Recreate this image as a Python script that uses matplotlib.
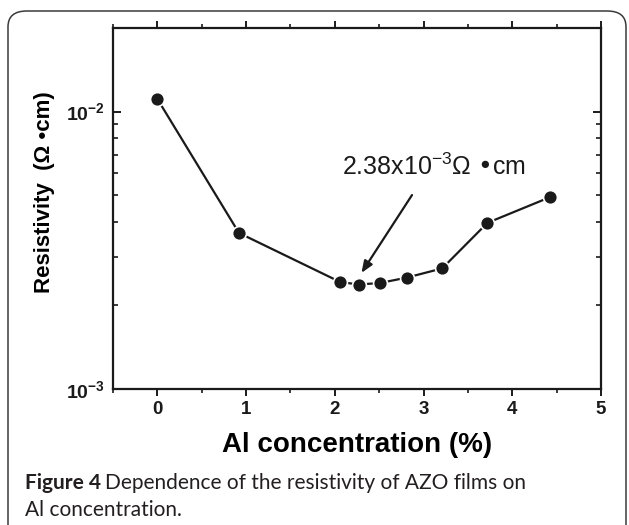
import matplotlib
matplotlib.use('Agg')
import matplotlib.pyplot as plt
from matplotlib.patches import FancyBboxPatch
from matplotlib.ticker import MultipleLocator, LogLocator

plt.rcParams['font.family'] = ['Liberation Sans', 'DejaVu Sans']
plt.rcParams['font.weight'] = 'bold'

# Data
al_conc = [0.0, 0.92, 2.06, 2.27, 2.51, 2.81, 3.21, 3.72, 4.43]
resistivity = [1.11e-2, 3.65e-3, 2.43e-3, 2.38e-3, 2.41e-3, 2.52e-3, 2.72e-3, 3.97e-3, 4.92e-3]

fig = plt.figure(figsize=(6.29, 5.25), dpi=100)

# rounded caption frame
frame = FancyBboxPatch((8 / 629, -0.2), 618 / 629, 1.2 - 11 / 525,
                       boxstyle='round,pad=0,rounding_size=0.03',
                       transform=fig.transFigure, fill=False,
                       edgecolor='#3a3a3a', linewidth=1.1, clip_on=False)
fig.patches.append(frame)

ax = fig.add_axes([113 / 629, 1 - 389 / 525, 488 / 629, 361 / 525])

ax.plot(al_conc, resistivity, color='#1a1a1a', linewidth=1.6,
        marker='o', markersize=10, markerfacecolor='#1a1a1a',
        markeredgecolor='white', markeredgewidth=1.2)

ax.set_yscale('log')
ax.set_xlim(-0.5, 5)
ax.set_ylim(1e-3, 2e-2)
ax.xaxis.set_major_locator(MultipleLocator(1))
ax.xaxis.set_minor_locator(MultipleLocator(0.5))
ax.yaxis.set_major_locator(LogLocator(base=10))
ax.yaxis.set_minor_locator(LogLocator(base=10, subs=range(2, 10)))

for s in ax.spines.values():
    s.set_linewidth(1.6)
    s.set_color('#1a1a1a')

ax.tick_params(axis='x', which='both', direction='out', top=True,
               labelsize=13.5, pad=4, colors='#1a1a1a')
ax.tick_params(axis='x', which='major', length=5, width=1.4)
ax.tick_params(axis='x', which='minor', length=3, width=1.2)
ax.tick_params(axis='y', which='both', direction='in', right=True,
               labelsize=14, pad=6, colors='#1a1a1a')
ax.tick_params(axis='y', which='major', length=6, width=1.4)
ax.tick_params(axis='y', which='minor', length=3.6, width=1.2)

ax.set_xlabel('Al concentration (%)', fontsize=20, fontweight='bold', labelpad=10)
ax.set_ylabel('Resistivity  (Ω •cm)', fontsize=16, fontweight='bold')
ax.yaxis.set_label_coords(-0.119, 0.546)

ax.annotate('', xy=(2.30, 2.62e-3), xytext=(2.87, 5.0e-3),
            arrowprops=dict(arrowstyle='-|>,head_length=0.7,head_width=0.28',
                            color='#1a1a1a', lw=1.6, shrinkA=0, shrinkB=0))
ax.text(3.12, 6.34e-3, r'2.38x10$^{\mathdefault{-3}}$Ω •cm', fontsize=18,
        fontweight='normal', ha='center', va='center', color='#1a1a1a')

cap_font = ['Lato', 'DejaVu Sans']
t1 = fig.text(25 / 629, 1 - 483 / 525, 'Figure 4', fontsize=15, fontweight='bold',
              family=cap_font, va='center', color='#231f20')
fig.canvas.draw()
bb = t1.get_window_extent()
fig.text(bb.x1 / 629 + 0.007, 1 - 483 / 525,
         'Dependence of the resistivity of AZO films on', fontsize=15,
         fontweight='normal', family=cap_font, va='center', color='#231f20')
fig.text(25 / 629, 1 - 510 / 525, 'Al concentration.', fontsize=15,
         fontweight='normal', family=cap_font, va='center', color='#231f20')

fig.savefig('out.png', dpi=100)
plt.close(fig)
